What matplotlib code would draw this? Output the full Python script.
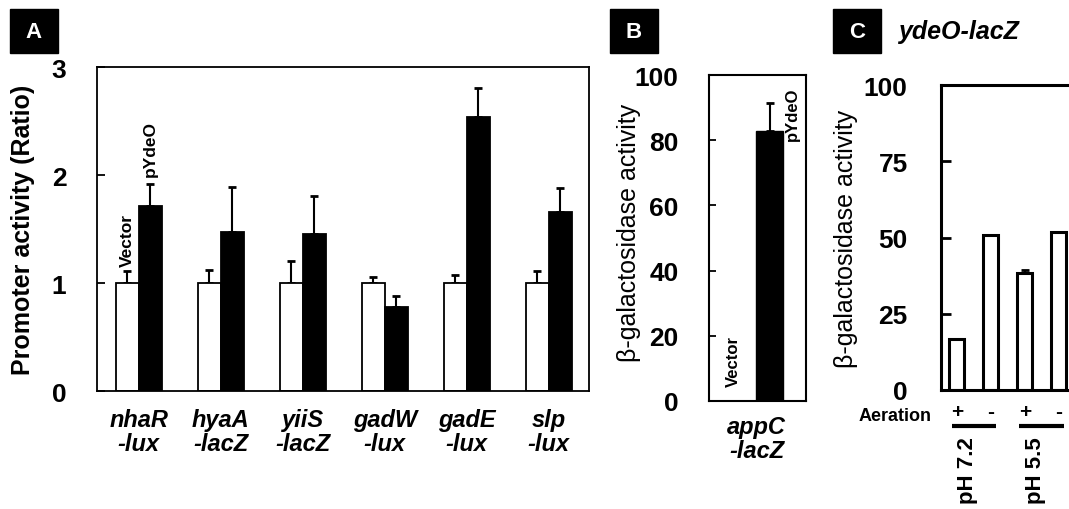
import numpy as np
import matplotlib
matplotlib.use("Agg")
import matplotlib.pyplot as plt
from matplotlib.patches import Rectangle

plt.rcParams['font.family'] = ['Liberation Sans', 'DejaVu Sans']

# Panel A data
genes = ['nhaR\n-lux', 'hyaA\n-lacZ', 'yiiS\n-lacZ', 'gadW\n-lux', 'gadE\n-lux', 'slp\n-lux']
vector_vals = [1.0, 1.0, 1.0, 1.0, 1.0, 1.0]
vector_err = [0.11, 0.12, 0.20, 0.06, 0.07, 0.11]
ydeo_vals = [1.71, 1.47, 1.45, 0.78, 2.54, 1.66]
ydeo_err = [0.21, 0.42, 0.36, 0.10, 0.27, 0.22]

# Panel B data
b_labels = ['Vector', 'pYdeO']
b_vals = [0.0, 82.8]
b_err = [0.0, 8.6]

# Panel C data
aeration = ['+', '-', '+', '-']
c_vals = [16.7, 50.8, 38.4, 51.8]
c_err = [0.0, 0.0, 0.9, 0.0]
ph_labels = ['pH 7.2', 'pH 5.5']

W, H = 1069, 510
fig = plt.figure(figsize=(W / 100, H / 100), dpi=100)


def box(x0, y0, x1, y1):
    # pixel box -> figure fraction [left, bottom, width, height]
    return [x0 / W, 1 - y1 / H, (x1 - x0) / W, (y1 - y0) / H]


def tag(x0, letter):
    fig.patches.append(Rectangle((x0 / W, 1 - 54 / H), 48 / W, 44 / H,
                                 transform=fig.transFigure, color='black'))
    fig.text((x0 + 24) / W, 1 - 32 / H, letter, color='white', fontsize=16,
             fontweight='bold', ha='center', va='center')


tick_font = dict(fontsize=19, fontweight='bold')

# ---- A ----
axA = fig.add_axes(box(97, 68, 589, 392))
x = np.arange(len(genes))
w = 0.28
axA.bar(x - w / 2, vector_vals, w, color='white', edgecolor='black', linewidth=1.3, zorder=2)
axA.bar(x + w / 2, ydeo_vals, w, color='black', edgecolor='black', linewidth=1.3, zorder=2)
axA.errorbar(x - w / 2, vector_vals, yerr=[np.zeros(len(x)), vector_err], fmt='none',
             ecolor='black', elinewidth=1.5, capsize=3, capthick=2, zorder=1)
axA.errorbar(x + w / 2, ydeo_vals, yerr=[np.zeros(len(x)), ydeo_err], fmt='none',
             ecolor='black', elinewidth=1.5, capsize=3, capthick=2, zorder=1)
axA.set_xlim(-0.51, 5.49)
axA.set_ylim(0, 3)
axA.set_yticks([0, 1, 2, 3])
axA.set_yticklabels(['0', '1', '2', '3'], **tick_font)
axA.tick_params(axis='y', direction='in', length=6, width=1.3, pad=22)
axA.set_xticks(x)
axA.set_xticklabels(genes, fontsize=17, fontweight='bold', style='italic', linespacing=1.05)
axA.tick_params(axis='x', length=0, pad=12)
for s in axA.spines.values():
    s.set_linewidth(1.3)
axA.set_ylabel('Promoter activity (Ratio)', fontsize=18, fontweight='bold')
axA.yaxis.set_label_coords(-0.125, 0.5)
axA.text(x[0] - w / 2, vector_vals[0] + vector_err[0] + 0.05, 'Vector', rotation=90,
         ha='center', va='bottom', fontsize=12.5, fontweight='bold')
axA.text(x[0] + w / 2, ydeo_vals[0] + ydeo_err[0] + 0.07, 'pYdeO', rotation=90,
         ha='center', va='bottom', fontsize=12.5, fontweight='bold')
tag(10, 'A')

# ---- B ----
axB = fig.add_axes(box(709, 76, 806, 402))
xb = np.arange(len(b_labels))
axB.bar(xb, b_vals, 1.0, color=['white', 'black'], edgecolor='black', linewidth=1.0, zorder=2)
axB.errorbar(xb[1:], b_vals[1:], yerr=[[0], b_err[1:]], fmt='none', ecolor='black',
             elinewidth=1.5, capsize=3, capthick=2, zorder=1)
axB.set_xlim(-1.27, 2.35)
axB.set_ylim(0, 100)
axB.set_yticks([0, 20, 40, 60, 80, 100])
axB.set_yticklabels(['0', '20', '40', '60', '80', '100'], **tick_font)
axB.tick_params(axis='y', direction='in', length=5, width=1.3, pad=22)
axB.set_xticks([0.5])
axB.set_xticklabels(['appC\n-lacZ'], fontsize=17, fontweight='bold', style='italic', linespacing=1.05)
axB.tick_params(axis='x', length=0, pad=10)
for s in axB.spines.values():
    s.set_linewidth(1.5)
axB.set_ylabel('β-galactosidase activity', fontsize=18)
axB.yaxis.set_label_coords(-0.70, 0.52)
axB.text(xb[0] - 0.35, 4.5, 'Vector', rotation=90, ha='center', va='bottom',
         fontsize=12, fontweight='bold')
axB.text(xb[1] + 0.85, 96.5, 'pYdeO', rotation=90, ha='center', va='top',
         fontsize=12, fontweight='bold')
tag(610, 'B')

# ---- C ----
axC = fig.add_axes(box(941, 86, 1100, 391))
xc = np.arange(len(c_vals))
axC.bar(xc, c_vals, 0.44, color='white', edgecolor='black', linewidth=2.2, zorder=2)
axC.errorbar(xc, c_vals, yerr=[np.zeros(len(xc)), c_err], fmt='none', ecolor='black',
             elinewidth=1.5, capsize=3, capthick=2, zorder=1)
axC.set_xlim(-0.47, 4.21)
axC.set_ylim(0, 100)
axC.set_yticks([0, 25, 50, 75, 100])
axC.set_yticklabels(['0', '25', '50', '75', '100'], **tick_font)
axC.tick_params(axis='y', direction='in', length=7, width=2, pad=24)
axC.set_xticks([])
for s in axC.spines.values():
    s.set_linewidth(2.2)
axC.set_ylabel('β-galactosidase activity', fontsize=18)
axC.yaxis.set_label_coords(-0.52, 0.5)
tr = axC.get_xaxis_transform()
axC.text(-0.75, -0.082, 'Aeration', transform=tr, ha='right', va='center',
         fontsize=13, fontweight='bold', clip_on=False)
for xi, a in zip(xc, aeration):
    axC.text(xi, -0.07, a, transform=tr, ha='center', va='center',
             fontsize=15, fontweight='bold', clip_on=False)
for k, lab in enumerate(ph_labels):
    c = xc[2 * k] + 0.5
    axC.plot([c - 0.66, c + 0.66], [-0.118, -0.118], transform=tr, color='black',
             linewidth=3, clip_on=False, solid_capstyle='butt')
    axC.text(c - 0.18, -0.15, lab, transform=tr, rotation=90, ha='center', va='top',
             fontsize=16, fontweight='bold', clip_on=False)
tag(833, 'C')
fig.text(898 / W, 1 - 32 / H, 'ydeO-lacZ', fontsize=18, fontweight='bold', style='italic',
         ha='left', va='center')

fig.savefig('out.png', dpi=100)
